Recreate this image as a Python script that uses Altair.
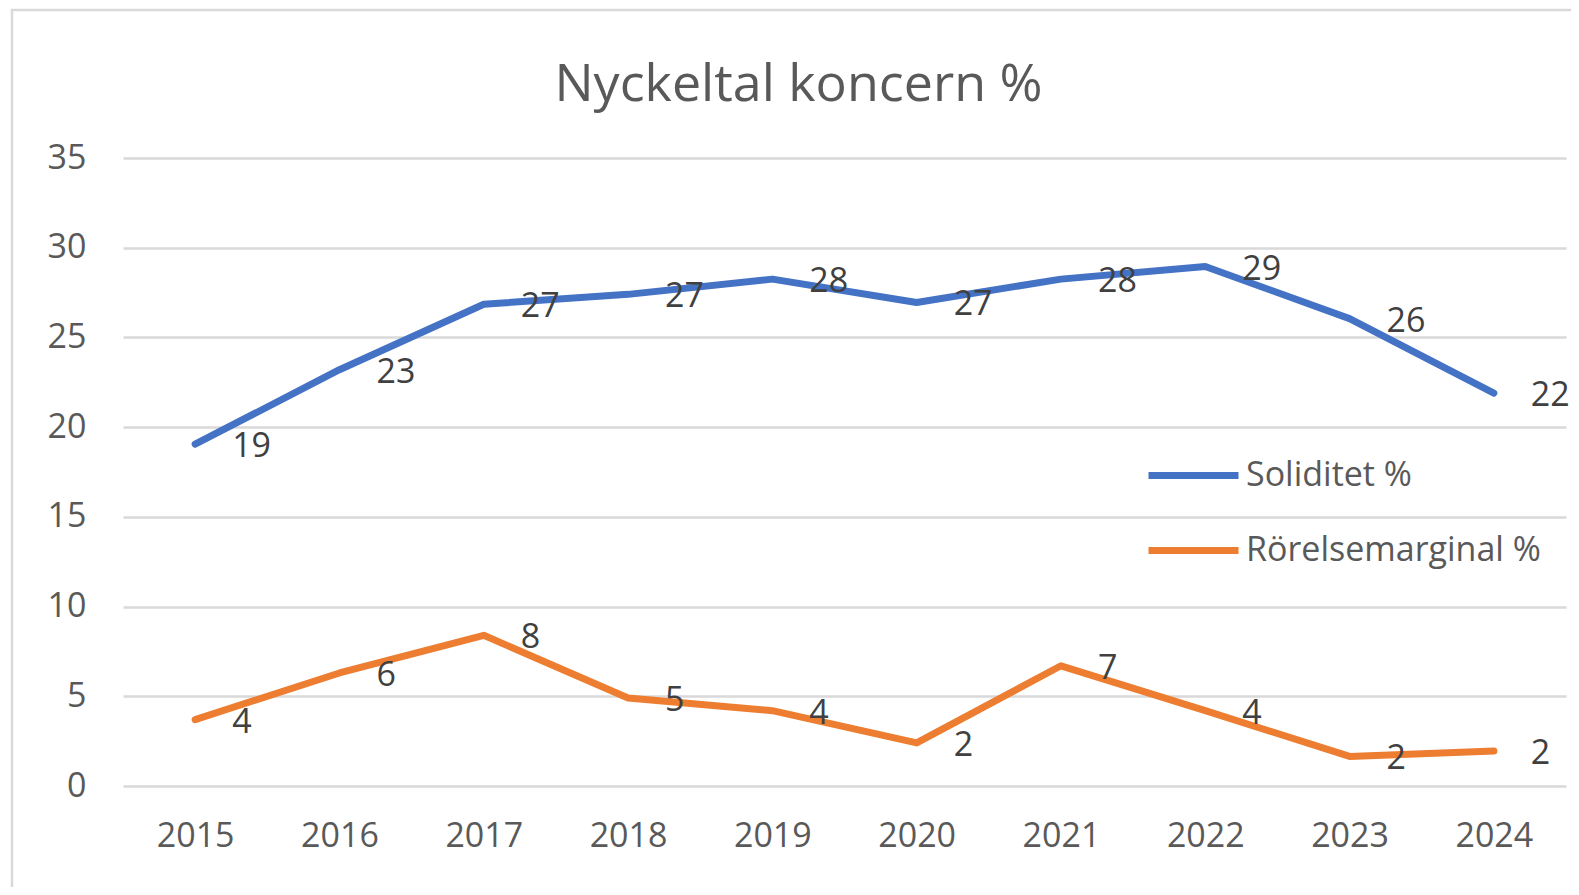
import altair as alt
import pandas as pd

years = ["2015", "2016", "2017", "2018", "2019", "2020", "2021", "2022", "2023", "2024"]
series_names = ["Soliditet %", "Rörelsemarginal %"]
soliditet = [19.05, 23.2, 26.85, 27.4, 28.25, 26.95, 28.25, 28.95, 26.05, 21.9]
rorelsemarginal = [3.7, 6.3, 8.4, 4.9, 4.2, 2.4, 6.7, 4.2, 1.65, 1.95]
y_ticks = [0, 5, 10, 15, 20, 25, 30, 35]
colors = ["#4472C4", "#ED7D31"]

df = pd.DataFrame({
    "year": years * 2,
    "value": soliditet + rorelsemarginal,
    "serie": [series_names[0]] * len(years) + [series_names[1]] * len(years),
})

FONT = "Open Sans"
GREY = "#595959"

base = alt.Chart(df).encode(
    x=alt.X("year:O", sort=years, title=None,
            axis=alt.Axis(labelAngle=0, labelFont=FONT, labelFontSize=34, labelColor=GREY,
                          labelPadding=33, ticks=False, domain=False, grid=False)),
    y=alt.Y("value:Q", title=None, scale=alt.Scale(domain=[0, 35]),
            axis=alt.Axis(values=y_ticks, labelFont=FONT, labelFontSize=34, labelColor=GREY,
                          labelPadding=37, ticks=False, domain=False, grid=True,
                          gridColor="#d9d9d9", gridWidth=2.5)),
)

lines = base.mark_line(strokeWidth=7, strokeCap="round", strokeJoin="round").encode(
    color=alt.Color("serie:N", sort=series_names,
                    scale=alt.Scale(domain=series_names, range=colors),
                    legend=alt.Legend(title=None, orient="none", legendX=1022, legendY=269,
                                      symbolType="stroke", symbolSize=8100, symbolStrokeWidth=7,
                                      labelFont=FONT, labelFontSize=34, labelColor=GREY,
                                      labelLimit=0, labelOffset=4, rowPadding=9, padding=0))
)

labels = base.mark_text(align="left", baseline="middle", dx=37, dy=3, font=FONT, fontSize=34,
                        color="#404040").encode(
    text=alt.Text("value:Q", format=".0f"),
    detail="serie:N",
)

border = alt.Chart(pd.DataFrame({"b": [0]})).mark_rect(
    fill=None, stroke="#d9d9d9", strokeWidth=2.5
).encode(x=alt.value(-111), x2=alt.value(1600), y=alt.value(-148), y2=alt.value(900))

chart = alt.layer(border, lines, labels).properties(
    width=1443, height=628,
    title=alt.Title("Nyckeltal koncern %", font=FONT, fontSize=52, color=GREY,
                    fontWeight="normal", anchor="middle", dx=-46, offset=-103),
    autosize=alt.AutoSizeParams(type="none"),
    padding={"left": 115, "top": 150, "right": 5, "bottom": 101},
).configure_view(stroke=None)

chart.save("out.html", embed_options={"renderer": "svg", "actions": False})
